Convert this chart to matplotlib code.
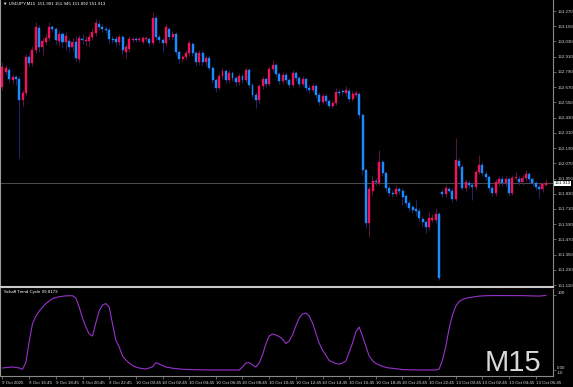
import matplotlib
matplotlib.use("Agg")
import matplotlib.pyplot as plt
import numpy as np

# USDJPY M15 candles, bar 0 = 9 Oct 2025 14:45
opens = [
    152.671, 152.790, 152.805, 152.727, 152.750, 152.735, 152.569, 152.624, 152.908, 152.861,
    152.963, 153.136, 152.987, 153.026, 153.058, 153.144, 153.129, 153.034, 153.089, 153.026,
    153.034, 152.987, 153.026, 152.892, 153.050, 153.034, 153.034, 153.065, 153.097, 153.168,
    153.144, 153.129, 153.121, 153.050, 153.050, 153.026, 153.065, 152.947, 152.971, 153.042,
    153.050, 153.042, 153.026, 153.050, 153.050, 153.018, 153.215, 153.065, 153.042, 153.018,
    153.129, 153.065, 153.089, 152.947, 152.892, 152.908, 152.939, 153.010, 152.939, 152.868,
    152.939, 152.868, 152.900, 152.821, 152.727, 152.664, 152.758, 152.797, 152.727, 152.782,
    152.742, 152.711, 152.758, 152.727, 152.805, 152.687, 152.608, 152.569, 152.679, 152.735,
    152.695, 152.813, 152.845, 152.774, 152.719, 152.766, 152.727, 152.687, 152.782, 152.742,
    152.695, 152.735, 152.664, 152.648, 152.679, 152.608, 152.553, 152.601, 152.561, 152.522,
    152.545, 152.632, 152.640, 152.624, 152.640, 152.577, 152.608, 152.616, 152.451, 152.017,
    151.600, 151.852, 151.931, 151.915, 152.080, 151.994, 151.876, 151.836, 151.828, 151.868,
    151.852, 151.813, 151.757, 151.726, 151.710, 151.694, 151.631, 151.608, 151.568, 151.623,
    151.623, 151.671, 151.844, 151.828, 151.868, 151.852, 151.789, 152.088, 152.041, 151.876,
    151.915, 151.899, 151.883, 152.002, 152.057, 151.986, 151.962, 151.876, 151.836, 151.915,
    151.946, 151.915, 151.946, 151.836, 151.954, 151.946, 151.923, 151.954, 151.986, 151.946,
    151.915, 151.883, 151.868, 151.901,
]
highs = [
    152.868, 152.845, 152.829, 152.774, 152.766, 152.758, 152.648, 152.931, 152.939, 152.995,
    153.184, 153.160, 153.058, 153.097, 153.184, 153.160, 153.144, 153.121, 153.105, 153.105,
    153.058, 153.058, 153.073, 153.081, 153.089, 153.073, 153.097, 153.136, 153.207, 153.199,
    153.168, 153.152, 153.144, 153.073, 153.073, 153.089, 153.081, 153.010, 153.073, 153.065,
    153.065, 153.065, 153.073, 153.073, 153.065, 153.262, 153.239, 153.089, 153.058, 153.168,
    153.144, 153.113, 153.105, 152.963, 152.924, 152.963, 153.042, 153.026, 152.955, 152.963,
    152.963, 152.924, 152.924, 152.837, 152.742, 152.782, 152.821, 152.813, 152.805, 152.797,
    152.758, 152.782, 152.774, 152.829, 152.821, 152.703, 152.632, 152.695, 152.758, 152.750,
    152.837, 152.884, 152.861, 152.790, 152.790, 152.790, 152.742, 152.805, 152.797, 152.758,
    152.758, 152.750, 152.687, 152.703, 152.695, 152.632, 152.624, 152.616, 152.577, 152.569,
    152.664, 152.656, 152.656, 152.679, 152.664, 152.640, 152.648, 152.632, 152.467, 152.033,
    151.891, 151.970, 151.954, 152.175, 152.096, 152.009, 151.899, 151.860, 151.899, 151.883,
    151.876, 151.828, 151.781, 151.742, 151.781, 151.718, 151.655, 151.623, 151.686, 151.671,
    151.718, 151.686, 151.868, 151.899, 151.883, 151.876, 152.270, 152.112, 152.065, 151.946,
    151.939, 151.923, 152.017, 152.136, 152.080, 152.009, 151.978, 151.899, 151.946, 151.970,
    151.970, 151.978, 151.962, 151.978, 152.002, 151.970, 151.978, 152.017, 152.002, 151.962,
    151.931, 151.907, 151.923, 151.945,
]
lows = [
    152.648, 152.766, 152.711, 152.695, 152.687, 152.112, 152.522, 152.601, 152.837, 152.837,
    152.939, 152.947, 152.924, 153.002, 153.034, 153.105, 153.010, 152.995, 152.979, 152.963,
    152.947, 152.955, 152.876, 152.868, 153.010, 153.002, 152.995, 153.042, 153.073, 153.121,
    153.105, 153.097, 153.018, 153.018, 152.995, 153.002, 152.931, 152.900, 152.947, 153.026,
    153.026, 153.026, 153.010, 153.034, 152.995, 153.002, 153.042, 153.018, 152.947, 152.995,
    153.042, 153.050, 152.924, 152.861, 152.868, 152.884, 152.916, 152.916, 152.837, 152.845,
    152.845, 152.837, 152.805, 152.703, 152.632, 152.648, 152.735, 152.703, 152.703, 152.719,
    152.679, 152.687, 152.703, 152.711, 152.664, 152.585, 152.506, 152.545, 152.656, 152.671,
    152.679, 152.790, 152.750, 152.695, 152.695, 152.703, 152.664, 152.671, 152.719, 152.671,
    152.679, 152.640, 152.624, 152.632, 152.585, 152.530, 152.538, 152.538, 152.506, 152.506,
    152.530, 152.601, 152.608, 152.601, 152.553, 152.561, 152.593, 152.427, 151.978, 151.560,
    151.489, 151.820, 151.899, 151.899, 151.970, 151.852, 151.813, 151.805, 151.813, 151.828,
    151.742, 151.734, 151.694, 151.679, 151.655, 151.616, 151.576, 151.521, 151.545, 151.608,
    151.600, 151.151, 151.805, 151.805, 151.836, 151.765, 151.773, 152.025, 151.860, 151.852,
    151.876, 151.781, 151.860, 151.986, 151.970, 151.939, 151.852, 151.813, 151.813, 151.891,
    151.891, 151.891, 151.813, 151.820, 151.939, 151.899, 151.899, 151.931, 151.923, 151.891,
    151.860, 151.797, 151.844, 151.892,
]
closes = [
    152.829, 152.821, 152.735, 152.750, 152.735, 152.569, 152.624, 152.908, 152.861, 152.963,
    153.144, 152.987, 153.034, 153.058, 153.144, 153.129, 153.042, 153.089, 153.026, 153.073,
    152.987, 153.026, 152.900, 153.058, 153.042, 153.042, 153.065, 153.105, 153.176, 153.144,
    153.129, 153.121, 153.050, 153.042, 153.026, 153.065, 152.963, 152.987, 153.050, 153.050,
    153.042, 153.050, 153.058, 153.058, 153.018, 153.215, 153.065, 153.042, 153.018, 153.144,
    153.065, 153.089, 152.947, 152.892, 152.908, 152.939, 153.018, 152.939, 152.868, 152.939,
    152.868, 152.900, 152.821, 152.727, 152.664, 152.758, 152.797, 152.727, 152.782, 152.742,
    152.711, 152.758, 152.727, 152.805, 152.687, 152.608, 152.569, 152.679, 152.735, 152.695,
    152.813, 152.845, 152.774, 152.719, 152.766, 152.727, 152.687, 152.782, 152.742, 152.695,
    152.735, 152.664, 152.648, 152.679, 152.608, 152.553, 152.601, 152.561, 152.522, 152.545,
    152.632, 152.624, 152.632, 152.648, 152.577, 152.616, 152.624, 152.451, 152.017, 151.600,
    151.868, 151.931, 151.923, 152.080, 151.994, 151.876, 151.836, 151.828, 151.868, 151.852,
    151.805, 151.757, 151.718, 151.702, 151.694, 151.639, 151.608, 151.568, 151.639, 151.639,
    151.671, 151.166, 151.828, 151.876, 151.852, 151.789, 152.096, 152.049, 151.876, 151.923,
    151.899, 151.883, 152.002, 152.057, 151.994, 151.962, 151.876, 151.836, 151.923, 151.946,
    151.915, 151.946, 151.836, 151.954, 151.962, 151.923, 151.954, 151.986, 151.946, 151.915,
    151.883, 151.868, 151.907, 151.913,
]
# Schaff Trend Cycle, one value per bar
stc = [
    2.7, 3.3, 3.6, 4.0, 3.6, 2.7, 0.9, 10.0, 38.0, 62.0,
    72.0, 79.0, 84.0, 89.0, 92.4, 95.7, 97.0, 98.1, 98.8, 99.3,
    99.5, 99.5, 96.4, 84.4, 69.6, 57.6, 48.2, 45.5, 63.0, 79.0,
    87.0, 89.0, 84.4, 61.6, 40.0, 30.8, 18.7, 13.4, 9.4, 6.0,
    4.0, 2.7, 2.0, 1.3, 2.7, 4.4, 9.8, 8.0, 6.0, 4.0,
    3.3, 2.4, 1.9, 1.3, 1.0, 0.8, 0.6, 0.5, 0.4, 0.3,
    0.2, 0.1, 0.0, 0.0, 0.0, 0.0, 0.0, 0.0, 0.0, 0.0,
    0.0, 0.0, 4.0, 9.4, 10.0, 6.7, 4.0, 9.4, 20.0, 34.8,
    45.5, 48.2, 46.9, 44.9, 41.5, 35.5, 38.8, 46.9, 59.0, 69.6,
    75.0, 76.3, 72.3, 63.0, 49.5, 36.0, 26.8, 20.0, 12.7, 10.7,
    8.7, 8.0, 9.4, 12.0, 24.0, 36.0, 51.0, 57.6, 45.5, 32.0,
    18.7, 12.7, 8.7, 6.7, 5.0, 3.6, 2.7, 2.3, 1.7, 1.3,
    0.6, 0.4, 0.3, 0.2, 0.1, 0.0, 0.0, 0.0, 0.0, 0.0,
    0.2, 1.3, 13.4, 32.0, 56.0, 73.6, 85.7, 91.7, 94.4, 96.0,
    97.0, 97.7, 98.4, 99.0, 99.3, 99.5, 99.6, 99.6, 99.7, 99.7,
    99.7, 99.6, 99.6, 99.7, 99.7, 99.6, 99.6, 99.5, 99.5, 99.4,
    99.2, 99.0, 99.4, 99.8173,
]
time_labels = ["9 Oct 2025", "9 Oct 16:45", "9 Oct 18:45", "9 Oct 20:45", "9 Oct 22:45",
               "10 Oct 00:45", "10 Oct 02:45", "10 Oct 04:45", "10 Oct 06:45", "10 Oct 08:45",
               "10 Oct 10:45", "10 Oct 12:45", "10 Oct 14:45", "10 Oct 16:45", "10 Oct 18:45",
               "10 Oct 20:45", "10 Oct 22:45", "13 Oct 00:45", "13 Oct 02:45", "13 Oct 04:45",
               "13 Oct 06:45"]
time_ticks = list(range(0, 161, 8))
price_ticks = [151.110 + 0.12 * k for k in range(19)]

W, H = 573, 387
BG = "black"
AXC = "#8a8a8a"
TXT = "#d8d8d8"
UP, DOWN = "#f0125a", "#1a8cff"
UPW, DOWNW = "#5e1245", "#1e2870"
SMALL = ["Liberation Sans Narrow", "Liberation Sans", "DejaVu Sans"]


def rect(x0, y0, x1, y1):
    return [x0 / W, 1 - y1 / H, (x1 - x0) / W, (y1 - y0) / H]


fig = plt.figure(figsize=(W / 100, H / 100), dpi=100, facecolor=BG)
ax = fig.add_axes(rect(0, 0, 553, 287), facecolor=BG)
ax2 = fig.add_axes(rect(0, 289, 553, 376), facecolor=BG, sharex=ax)

o, h, l, c = map(np.array, (opens, highs, lows, closes))
x = np.arange(len(o))
up = c >= o
ax.axhline(c[-1], color="#5a5a5a", lw=0.6, zorder=1)
ax.vlines(x, l, h, colors=np.where(up, UPW, DOWNW), lw=0.7, zorder=2)
ax.bar(x, c - o, bottom=o, width=0.6, color=np.where(up, UP, DOWN),
       edgecolor=np.where(up, UP, DOWN), lw=0.3, zorder=3)

ax.set_xlim(-0.75, 165.15)
ax.set_ylim(151.095, 153.357)
ax.yaxis.tick_right()
ax.set_yticks(price_ticks)
ax.set_yticklabels(["%.3f" % p for p in price_ticks], family=SMALL)
ax.tick_params(axis="y", labelsize=3.2, colors=AXC, labelcolor=TXT, length=2, width=0.5, pad=1)
ax.tick_params(axis="x", bottom=False, labelbottom=False)
ax.spines["top"].set_visible(False)
ax.spines["right"].set_color(AXC)
ax.spines["right"].set_linewidth(0.8)
ax.spines["left"].set_color("#9a9a9a")
ax.spines["left"].set_linewidth(1.5)
ax.spines["bottom"].set_color("#c8c8c8")
ax.spines["bottom"].set_linewidth(1.5)

ax.text(0.006, 0.996, "\u25bc USDJPY,M15  151.901 151.945 151.892 151.913", transform=ax.transAxes,
        va="top", ha="left", fontsize=3.2, color="white", family=SMALL + ["DejaVu Sans"])
ax.text(1.003, c[-1], "%.3f" % c[-1], transform=ax.get_yaxis_transform(), va="center", ha="left",
        fontsize=3.2, color="black", family=SMALL,
        bbox=dict(boxstyle="square,pad=0.15", fc="white", ec="none"), clip_on=False, zorder=5)

# indicator pane
ax2.plot(x, stc, color="#9932cc", lw=0.8)
ax2.set_ylim(-8, 108.5)
ax2.yaxis.tick_right()
ax2.set_yticks([100, 0])
ax2.set_yticklabels(["100", "0.00"], family=SMALL)
ax2.tick_params(axis="y", labelsize=3.2, colors=AXC, labelcolor=TXT, length=2, width=0.5, pad=1)
ax2.get_yticklabels()[0].set_va("bottom")
ax2.get_yticklabels()[1].set_va("bottom")
ax2.text(1.006, -1, "-10", transform=ax2.get_yaxis_transform(), va="top", ha="left",
         fontsize=3.2, color=TXT, family=SMALL, clip_on=False)
ax2.text(0.008, 0.985, "Schaff Trend Cycle 99.8173", transform=ax2.transAxes,
         va="top", ha="left", fontsize=3.2, color="white", family=SMALL)
ax2.set_xticks(time_ticks)
ax2.set_xticklabels(time_labels, family=SMALL)
ax2.tick_params(axis="x", labelsize=3.2, colors=AXC, labelcolor=TXT, length=2, width=0.5, pad=1.5)
for t in ax2.get_xticklabels():
    t.set_ha("left")
ax2.spines["top"].set_visible(False)
ax2.spines["right"].set_color(AXC)
ax2.spines["right"].set_linewidth(0.8)
ax2.spines["left"].set_color("#9a9a9a")
ax2.spines["left"].set_linewidth(1.5)
ax2.spines["bottom"].set_color(AXC)
ax2.spines["bottom"].set_linewidth(0.8)

fig.text(485 / W, 1 - 371 / H, "M15", fontsize=21, color="#d9d9d9", ha="left", va="baseline",
         family=["Liberation Sans", "DejaVu Sans"], zorder=10)

fig.savefig("out.png", dpi=100, facecolor=BG)
